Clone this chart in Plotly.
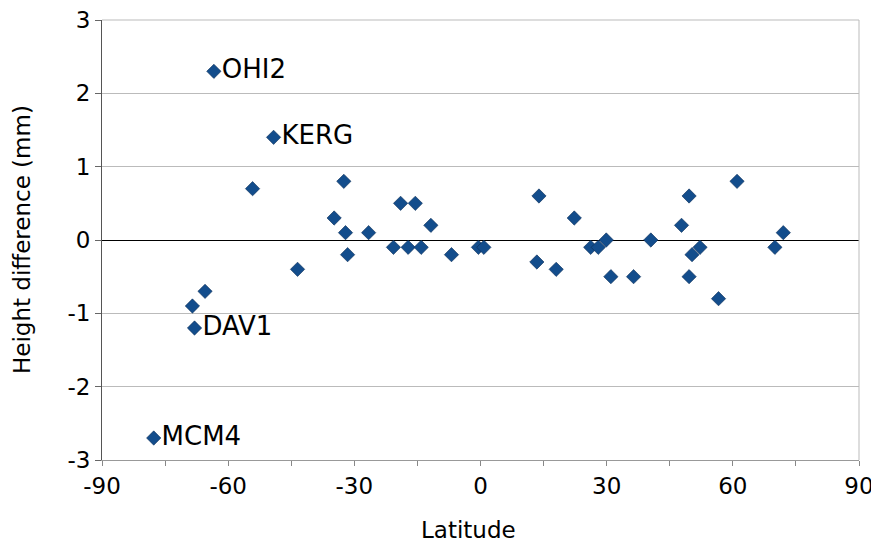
import plotly.graph_objects as go

latitude = [-77.7, -68.5, -68.0, -65.5, -63.4, -54.2, -49.2, -43.5, -34.8, -32.5,
            -32.1, -31.6, -26.6, -20.7, -19.0, -17.2, -15.5, -14.1, -11.8, -6.9,
            -0.5, 0.8, 13.4, 13.9, 18.0, 22.3, 26.2, 28.0, 29.9, 31.0,
            36.4, 40.5, 47.8, 49.6, 49.6, 50.3, 52.2, 56.6, 61.0, 70.0, 72.0]
height_diff = [-2.7, -0.9, -1.2, -0.7, 2.3, 0.7, 1.4, -0.4, 0.3, 0.8,
               0.1, -0.2, 0.1, -0.1, 0.5, -0.1, 0.5, -0.1, 0.2, -0.2,
               -0.1, -0.1, -0.3, 0.6, -0.4, 0.3, -0.1, -0.1, 0.0, -0.5,
               -0.5, 0.0, 0.2, 0.6, -0.5, -0.2, -0.1, -0.8, 0.8, -0.1, 0.1]
station_labels = ["MCM4", "", "DAV1", "", "OHI2", "", "KERG"] + [""] * 34

x_tickvals = list(range(-90, 91, 15))
x_ticktext = [str(v) if v % 30 == 0 else "" for v in x_tickvals]
y_tickvals = [3, 2, 1, 0, -1, -2, -3]
y_ticktext = [str(v) for v in y_tickvals]

FONT = "DejaVu Sans, Arial, sans-serif"

fig = go.Figure()
fig.add_trace(go.Scatter(
    x=latitude, y=height_diff, mode="markers+text",
    text=station_labels, textposition="middle right",
    textfont=dict(family=FONT, size=26, color="black"),
    marker=dict(symbol="diamond", size=11, color="#134D8C",
                line=dict(color="#0B2E55", width=0.6)),
    showlegend=False, cliponaxis=False,
))

# the page body adds an 8px margin, so the figure is sized to compensate
fig.update_layout(
    width=871, height=537,
    margin=dict(l=94, r=20, t=12, b=85),
    paper_bgcolor="white", plot_bgcolor="white",
    font=dict(family=FONT, color="black"),
    xaxis=dict(
        range=[-90, 90], tickvals=x_tickvals, ticktext=x_ticktext,
        ticks="outside", ticklen=5, tickcolor="#888888",
        tickfont=dict(size=23), showgrid=False, zeroline=False,
        showline=True, linecolor="#999999", linewidth=1, mirror=False,
        automargin=False, ticklabeloverflow="allow",
    ),
    yaxis=dict(
        range=[-3, 3], tickvals=y_tickvals, ticktext=y_ticktext,
        ticks="outside", ticklen=6, tickcolor="#666666",
        tickfont=dict(size=23), showgrid=True, gridcolor="#BBBBBB", gridwidth=1,
        zeroline=True, zerolinecolor="black", zerolinewidth=1,
        showline=True, linecolor="#555555", linewidth=1,
        automargin=False, ticklabeloverflow="allow",
    ),
    annotations=[
        dict(text="Latitude", xref="paper", yref="paper", x=0.4835, y=0,
             xanchor="center", yanchor="middle", yshift=-70, showarrow=False,
             font=dict(size=23)),
        dict(text="Height difference (mm)", xref="paper", yref="paper", x=0, y=0.5,
             xanchor="center", yanchor="middle", xshift=-80, textangle=-90,
             showarrow=False, font=dict(size=23)),
    ],
)
fig.add_shape(type="line", xref="paper", yref="paper", x0=1, x1=1, y0=0, y1=1,
              line=dict(color="#BBBBBB", width=1))
fig.add_shape(type="line", xref="paper", yref="paper", x0=0, x1=1, y0=1, y1=1,
              line=dict(color="#BBBBBB", width=1))

fig.write_html("out.html")
